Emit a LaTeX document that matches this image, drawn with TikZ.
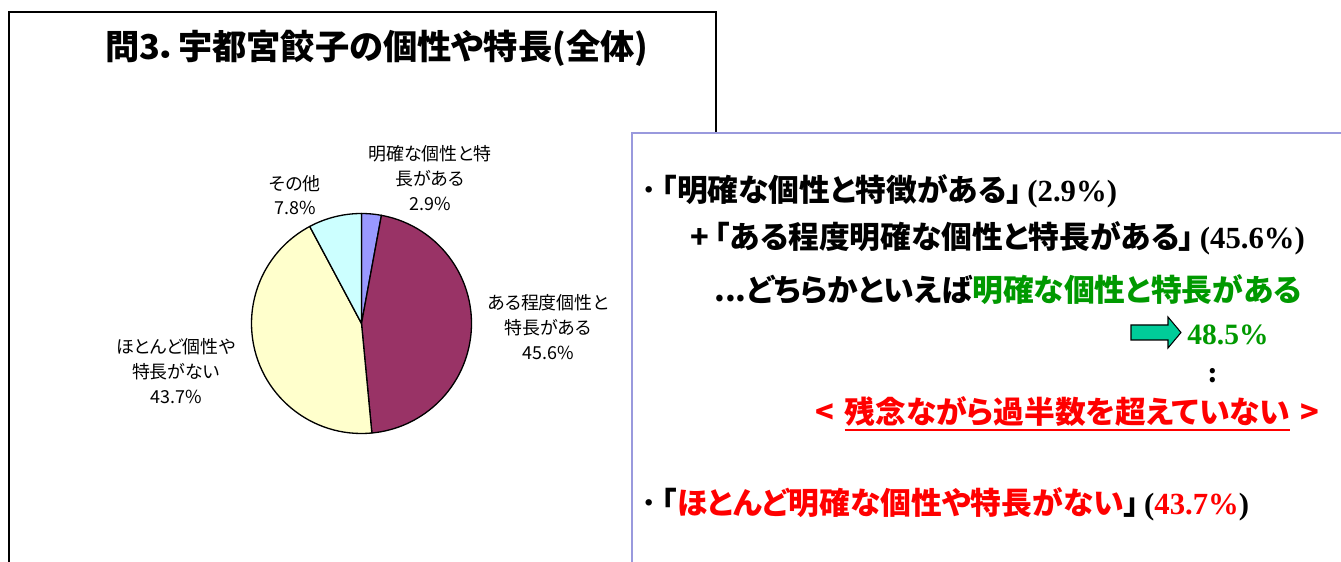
\documentclass[tikz,border=0pt]{standalone}
\usepackage{fontspec}
\usepackage{tikz}
\usetikzlibrary{calc,positioning}
\newfontfamily\jpfont[RawFeature=+palt]{Noto Sans CJK JP}
\newfontfamily\numfont{Liberation Serif}
\definecolor{sliceA}{HTML}{9999FF}
\definecolor{sliceB}{HTML}{993366}
\definecolor{sliceC}{HTML}{FFFFCC}
\definecolor{sliceD}{HTML}{CCFFFF}
\definecolor{okgreen}{HTML}{009900}
\definecolor{boxline}{HTML}{9999DD}
\definecolor{arrowfill}{HTML}{00CC99}
\tikzstyle{pie label}=[align=center,inner sep=0,font=\jpfont\fontsize{10.2}{14}\selectfont]
\tikzstyle{big text}=[anchor=west,inner sep=0,font=\jpfont\bfseries\fontsize{17.5}{20}\selectfont]
\newcommand{\pct}[1]{\hspace{3pt}{\numfont(\textbf{#1})}}
\newcommand{\redunder}[1]{\setbox0\hbox{#1}\rlap{\raisebox{-4pt}{\rule{\wd0}{1.2pt}}}\box0}

\begin{document}
\begin{tikzpicture}[x=0.02cm,y=0.02cm]
\useasboundingbox (0,0) rectangle (1341,561);

\draw[line width=0.9pt] (9,-10) rectangle (716,549);
\node(title)[font=\jpfont\bfseries\fontsize{19.5}{22}\selectfont] at (377,513) {問3．宇都宮餃子の個性や特長(全体)};

\coordinate (pie) at (361.5,237.5);
\foreach \a/\b/\c in {90/79.56/sliceA,79.56/-84.6/sliceB,-84.6/-241.92/sliceC,-241.92/-270/sliceD}
    \filldraw[fill=\c,line width=0.75pt,line join=round] (pie) -- ++(\a:110) arc[start angle=\a,end angle=\b,radius=110] -- cycle;

\node(clear)[pie label] at (430,383) {明確な個性と特\\長がある\\2.9\%};
\node(other)[pie label] at (295,366) {その他\\7.8\%};
\node(some)[pie label] at (548,234) {ある程度個性と\\特長がある\\45.6\%};
\node(none)[pie label] at (176,190) {ほとんど個性や\\特長がない\\43.7\%};

\draw[boxline,fill=white,line width=0.9pt] (632,-10) rectangle (1360,428);

\node(lineA)[big text] at (641,370) {･\,「明確な個性と特徴がある」\pct{2.9\%}};
\node(lineB)[big text] at (690,323) {+\,「ある程度明確な個性と特長がある」\pct{45.6\%}};
\node(lineC)[big text] at (714,271) {...どちらかといえば\textcolor{okgreen}{明確な個性と特長がある}};
\draw[fill=arrowfill,line width=0.6pt] (1131,221) -- (1168,221) -- (1168,213) -- (1181,228.5)
    -- (1168,244) -- (1168,236) -- (1131,236) -- cycle;
\node(sum)[anchor=west,inner sep=0,text=okgreen,font=\numfont\bfseries\fontsize{16.8}{20}\selectfont] at (1187,226) {48.5\%};
\node(dots)[big text,anchor=center,font=\jpfont\bfseries\fontsize{14}{16}\selectfont] at (1213,185) {:};
\node(lineD)[big text,text=red] at (815,147) {<\hspace{6pt}\redunder{残念ながら過半数を超えていない}\hspace{6pt}>};
\node(lineE)[big text] at (641,57) {･\,「\textcolor{red}{ほとんど明確な個性や特長がない}」\hspace{3pt}{\numfont(\textcolor{red}{\textbf{43.7\%}})}};

\end{tikzpicture}
\end{document}
